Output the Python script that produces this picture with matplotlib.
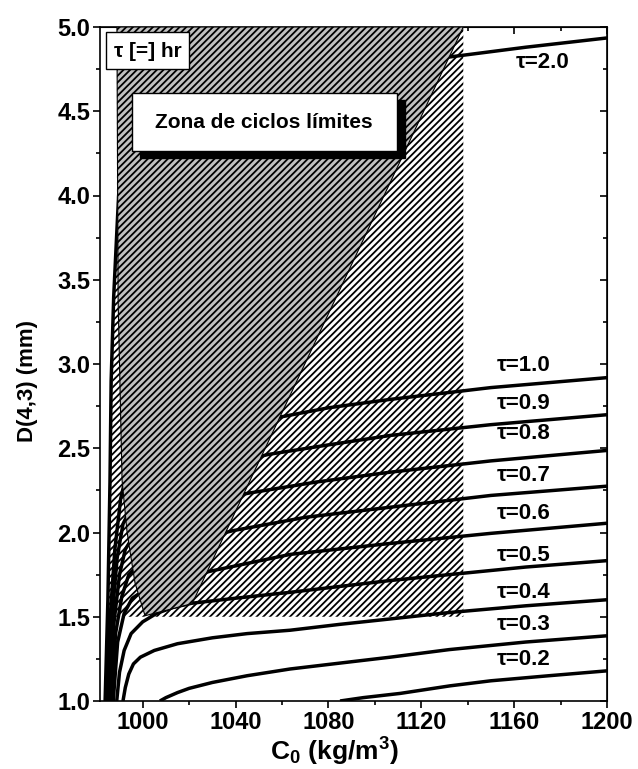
import matplotlib
matplotlib.use('Agg')
import matplotlib.pyplot as plt
from matplotlib.patches import Polygon, Rectangle

plt.rcParams['font.family'] = ['Liberation Sans', 'DejaVu Sans']
plt.rcParams['font.weight'] = 'bold'
plt.rcParams['mathtext.fontset'] = 'custom'
plt.rcParams['mathtext.rm'] = 'Liberation Sans:bold'
plt.rcParams['mathtext.bf'] = 'Liberation Sans:bold'
plt.rcParams['mathtext.it'] = 'Liberation Sans:bold'
plt.rcParams['hatch.linewidth'] = 1.3

# D(4,3) (mm) vs C0 (kg/m3), one curve per residence time tau (hr)
c0_t20 = [983.8, 985.0, 985.9, 986.4, 987.5, 988.9, 990, 995, 1010, 1040, 1080, 1131, 1165, 1200]
d_t20 = [1.0, 1.6, 2.3, 2.9, 3.4, 3.8, 4.1, 4.35, 4.5, 4.62, 4.72, 4.82, 4.88, 4.935]

c0_t10 = [984.6, 986.0, 988.0, 990.5, 993, 1000, 1020, 1040, 1059.2, 1080, 1106.6, 1150, 1200]
d_t10 = [1.0, 1.5, 1.9, 2.2, 2.35, 2.45, 2.56, 2.63, 2.685, 2.74, 2.79, 2.86, 2.919]

c0_t09 = [985.2, 986.8, 989.0, 991.5, 995, 1005, 1030, 1054, 1080, 1106.6, 1150, 1200]
d_t09 = [1.0, 1.5, 1.85, 2.05, 2.15, 2.25, 2.38, 2.463, 2.52, 2.576, 2.64, 2.699]

c0_t08 = [985.8, 987.5, 990.0, 992.5, 997, 1010, 1030, 1045.4, 1075, 1106.6, 1150, 1200]
d_t08 = [1.0, 1.45, 1.75, 1.9, 2.0, 2.1, 2.19, 2.233, 2.30, 2.358, 2.425, 2.487]

c0_t07 = [986.5, 988.3, 991.0, 994.0, 1000, 1015, 1038.9, 1070, 1106.6, 1150, 1200]
d_t07 = [1.0, 1.4, 1.62, 1.75, 1.83, 1.93, 2.011, 2.09, 2.15, 2.22, 2.275]

c0_t06 = [987.3, 989.2, 992.0, 995.5, 1002, 1029, 1063.5, 1106.6, 1150, 1200]
d_t06 = [1.0, 1.35, 1.52, 1.61, 1.67, 1.77, 1.87, 1.935, 1.995, 2.055]

c0_t05 = [988.8, 990.0, 992.0, 995.0, 1000, 1006, 1013, 1021, 1040, 1063.5, 1085, 1106.6, 1132, 1165, 1200]
d_t05 = [1.0, 1.17, 1.30, 1.40, 1.47, 1.52, 1.555, 1.58, 1.61, 1.645, 1.68, 1.715, 1.75, 1.795, 1.833]

c0_t04 = [991.5, 992.5, 994.0, 996.0, 999, 1005, 1015, 1030, 1045, 1063.5, 1085, 1106.6, 1132, 1165, 1200]
d_t04 = [1.0, 1.08, 1.16, 1.22, 1.26, 1.30, 1.34, 1.375, 1.40, 1.42, 1.455, 1.487, 1.525, 1.565, 1.601]

c0_t03 = [1007.4, 1010, 1015, 1020, 1030, 1045, 1063.5, 1085, 1106.6, 1132, 1165, 1200]
d_t03 = [1.0, 1.02, 1.05, 1.075, 1.11, 1.15, 1.19, 1.225, 1.26, 1.305, 1.35, 1.387]

c0_t02 = [1085, 1095, 1110.9, 1132.4, 1150, 1175, 1200]
d_t02 = [1.0, 1.02, 1.045, 1.09, 1.12, 1.15, 1.179]

tau_names = ['2.0', '1.0', '0.9', '0.8', '0.7', '0.6', '0.5', '0.4', '0.3', '0.2']
curves_c0 = [c0_t20, c0_t10, c0_t09, c0_t08, c0_t07, c0_t06, c0_t05, c0_t04, c0_t03, c0_t02]
curves_d = [d_t20, d_t10, d_t09, d_t08, d_t07, d_t06, d_t05, d_t04, d_t03, d_t02]

# label anchor (left, centre) for each tau text
label_c0 = [1160.5, 1152.5, 1152.5, 1152.5, 1152.5, 1152.5, 1152.5, 1152.5, 1152.5, 1152.5]
label_d = [4.79, 2.99, 2.765, 2.586, 2.338, 2.11, 1.862, 1.645, 1.453, 1.249]

# limit-cycle zone (grey) and hatched zone outlines
zona_c0 = [988.9, 1138.1, 1021.3, 1001.0, 996.7, 994.5, 993.2, 991.1, 989.4]
zona_d = [5.0, 5.0, 1.578, 1.506, 1.70, 1.89, 2.01, 2.31, 3.38]
hatch_c0 = [985.2, 1138.1, 1138.1, 988.9, 988.9, 987.3]
hatch_d = [1.5, 1.5, 5.0, 5.0, 3.8, 3.2]

fig = plt.figure(figsize=(6.38, 7.69), dpi=100)
ax = fig.add_axes([100 / 638, 68 / 769, 507 / 638, 674 / 769])

ax.add_patch(Polygon(list(zip(hatch_c0, hatch_d)), closed=True, facecolor='white',
                     edgecolor='black', linewidth=0, hatch='/////', zorder=1))

for xs, ys in zip(curves_c0, curves_d):
    ax.plot(xs, ys, color='black', linewidth=2.5, solid_capstyle='butt', zorder=2)

ax.add_patch(Polygon(list(zip(zona_c0, zona_d)), closed=True, facecolor='#c0c0c0',
                     edgecolor='black', linewidth=0.8, hatch='/////', zorder=3))

for name, lx, ly in zip(tau_names, label_c0, label_d):
    ax.text(lx, ly, '\u03c4=' + name, fontsize=16, fontweight='bold',
            ha='left', va='center', zorder=5)

# legend-like boxes
ax.add_patch(Rectangle((0.0783, 0.8061), 0.523, 0.0851, transform=ax.transAxes,
                       facecolor='black', edgecolor='black', zorder=6))
ax.add_patch(Rectangle((0.0625, 0.8165), 0.523, 0.0851, transform=ax.transAxes,
                       facecolor='white', edgecolor='black', linewidth=1, zorder=7))
ax.text(0.324, 0.859, 'Zona de ciclos l\u00edmites', transform=ax.transAxes,
        fontsize=15, fontweight='bold', ha='center', va='center', zorder=8)

ax.add_patch(Rectangle((0.0118, 0.9377), 0.164, 0.0545, transform=ax.transAxes,
                       facecolor='white', edgecolor='black', linewidth=1, zorder=7))
ax.text(0.094, 0.964, '\u03c4 [=] hr', transform=ax.transAxes,
        fontsize=15, fontweight='bold', ha='center', va='center', zorder=8)

ax.set_xlim(981.6, 1200)
ax.set_ylim(1.0, 5.0)
ax.set_xticks([1000, 1040, 1080, 1120, 1160, 1200])
ax.set_xticks([1020, 1060, 1100, 1140, 1180], minor=True)
ax.set_yticks([1.0, 1.5, 2.0, 2.5, 3.0, 3.5, 4.0, 4.5, 5.0])
ax.set_yticks([1.25, 1.75, 2.25, 2.75, 3.25, 3.75, 4.25, 4.75], minor=True)
ax.set_yticklabels(['1.0', '1.5', '2.0', '2.5', '3.0', '3.5', '4.0', '4.5', '5.0'])

ax.tick_params(which='both', direction='out', labelsize=17, width=1.2, top=False, right=False)
ax.tick_params(which='major', length=5, pad=2)
ax.tick_params(which='minor', length=3)
sec_y = ax.secondary_yaxis('right')
sec_y.set_yticks([1.0, 1.5, 2.0, 2.5, 3.0, 3.5, 4.0, 4.5, 5.0])
sec_y.set_yticks([1.25, 1.75, 2.25, 2.75, 3.25, 3.75, 4.25, 4.75], minor=True)
sec_y.tick_params(which='both', direction='in', labelright=False, width=1.2)
sec_y.tick_params(which='major', length=5)
sec_y.tick_params(which='minor', length=3)
sec_x = ax.secondary_xaxis('top')
sec_x.set_xticks([1000, 1040, 1080, 1120, 1160, 1200])
sec_x.set_xticks([1020, 1060, 1100, 1140, 1180], minor=True)
sec_x.tick_params(which='both', direction='in', labeltop=False, width=1.2)
sec_x.tick_params(which='major', length=5)
sec_x.tick_params(which='minor', length=3)
for sp in ax.spines.values():
    sp.set_linewidth(1.2)

for lab in ax.get_xticklabels() + ax.get_yticklabels():
    lab.set_fontweight('bold')

ax.set_xlabel('C$_0$ (kg/m$^3$)', fontsize=19, fontweight='bold')
ax.set_ylabel('D(4,3) (mm)', fontsize=16, fontweight='bold')
ax.xaxis.set_label_coords(0.4615, -0.051)
ax.yaxis.set_label_coords(-0.122, 0.475)

fig.savefig('out.png', dpi=100)
